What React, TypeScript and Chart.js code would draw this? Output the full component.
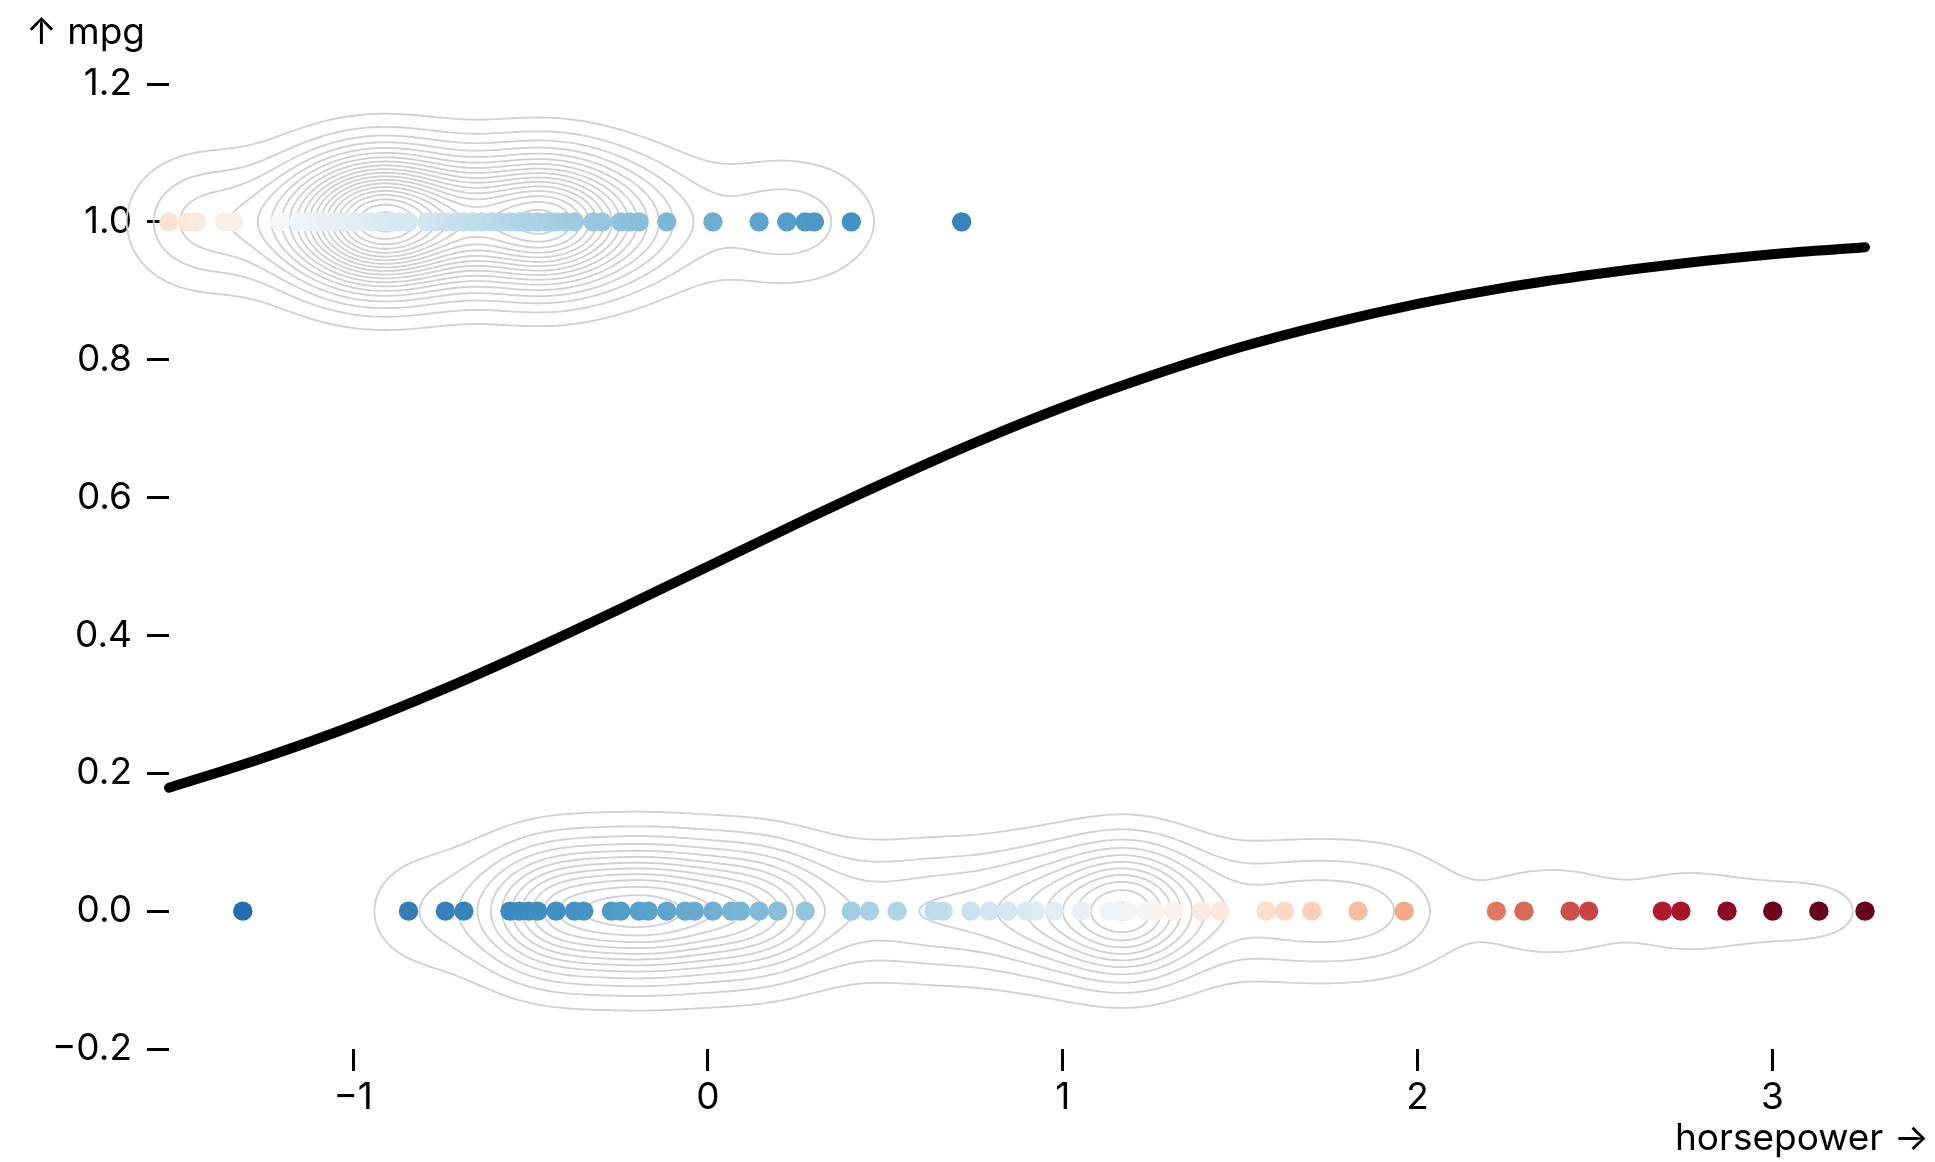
import React, { useEffect, useRef } from 'react';
import { Chart, registerables } from 'chart.js';

Chart.register(...registerables);

// ---- data (standardized horsepower) ----
// cars with mpg = 1 (top row)
const TOP_HORSEPOWER = [
  -1.519, -1.467, -1.441, -1.363, -1.337, -1.207, -1.155, -1.129, -1.103, -1.077,
  -1.051, -1.025, -0.999, -0.973, -0.947, -0.921, -0.896, -0.87, -0.844, -0.792,
  -0.766, -0.74, -0.714, -0.688, -0.662, -0.636, -0.61, -0.584, -0.558, -0.532,
  -0.506, -0.48, -0.454, -0.428, -0.402, -0.376, -0.324, -0.298, -0.246, -0.22,
  -0.194, -0.116, 0.014, 0.144, 0.222, 0.274, 0.3, 0.404, 0.715,
];
// number of cars sharing each value (estimated from the density contours)
const TOP_COUNT = [
  1, 2, 1, 2, 1, 1, 3, 1, 1, 2,
  1, 5, 1, 7, 4, 2, 8, 4, 4, 2,
  5, 1, 1, 3, 1, 3, 1, 1, 2, 4,
  4, 3, 2, 7, 1, 5, 3, 1, 2, 1,
  2, 2, 1, 2, 1, 1, 1, 1, 1,
];
// cars with mpg = 0 (bottom row)
const BOTTOM_HORSEPOWER = [
  -1.311, -0.844, -0.74, -0.688, -0.558, -0.532, -0.506, -0.48, -0.428, -0.376,
  -0.35, -0.272, -0.246, -0.194, -0.168, -0.116, -0.064, -0.038, 0.014, 0.066,
  0.092, 0.144, 0.196, 0.274, 0.404, 0.455, 0.533, 0.637, 0.663, 0.741,
  0.793, 0.845, 0.897, 0.923, 0.975, 1.053, 1.131, 1.157, 1.183, 1.235,
  1.261, 1.313, 1.391, 1.443, 1.573, 1.625, 1.702, 1.832, 1.962, 2.222,
  2.3, 2.43, 2.482, 2.69, 2.742, 2.872, 3.001, 3.131, 3.261,
];
const BOTTOM_COUNT = [
  1, 2, 1, 1, 1, 1, 3, 2, 5, 6,
  1, 1, 6, 4, 2, 7, 1, 1, 6, 1,
  1, 7, 2, 3, 2, 1, 2, 1, 3, 1,
  1, 1, 1, 4, 1, 4, 1, 1, 13, 1,
  1, 2, 1, 2, 2, 1, 3, 3, 3, 1,
  1, 1, 1, 1, 1, 1, 1, 1, 1,
];
const TOP_MPG = 1;
const BOTTOM_MPG = 0;

// fitted curve
const CURVE_X = [-1.519, -1.25, -1.0, -0.75, -0.5, -0.25, 0, 0.25, 0.5, 0.75, 1.0, 1.25, 1.5, 1.75, 2.0, 2.25, 2.5, 2.75, 3.0, 3.261];
const CURVE_Y = [0.179, 0.223, 0.269, 0.321, 0.378, 0.438, 0.5, 0.562, 0.622, 0.679, 0.731, 0.777, 0.818, 0.852, 0.881, 0.905, 0.924, 0.94, 0.953, 0.963];

const X_TICKS = [-1, 0, 1, 2, 3];
const Y_TICKS = [-0.2, 0, 0.2, 0.4, 0.6, 0.8, 1.0, 1.2];
const X_LABEL = 'horsepower →';
const Y_LABEL = '↑ mpg';

const RDBU = ['#67001f', '#b2182b', '#d6604d', '#f4a582', '#fddbc7', '#f7f7f7', '#d1e5f0', '#92c5de', '#4393c3', '#2166ac', '#053061'];

const FONT_FAMILY = 'Inter, "Noto Sans", sans-serif';
const FONT_SIZE = 37;

function hexToRgb(h: string) {
  return [parseInt(h.slice(1, 3), 16), parseInt(h.slice(3, 5), 16), parseInt(h.slice(5, 7), 16)];
}
function rdbu(t: number) {
  t = Math.max(0, Math.min(1, t));
  const s = t * 10;
  const i = Math.min(9, Math.floor(s));
  const f = s - i;
  const a = hexToRgb(RDBU[i]);
  const b = hexToRgb(RDBU[i + 1]);
  const c = a.map((v, k) => Math.round(v + (b[k] - v) * f));
  return `rgb(${c[0]},${c[1]},${c[2]})`;
}
// colour by log-loss of each car under the fitted curve
function pointColor(x: number, y: number) {
  const loss = y === 1 ? Math.log1p(Math.exp(-x)) : Math.log1p(Math.exp(x));
  return rdbu(0.5 - 0.3125 * (loss - 1.48));
}

const SIGMA = 44; // px
const LEVELS = 20;

const densityPlugin = {
  id: 'densityContours',
  beforeDatasetsDraw(chart: any) {
    const { ctx, width, height } = chart;
    const xs = chart.scales.x;
    const ys = chart.scales.y;
    const cell = 3;
    const nx = Math.ceil(width / cell) + 1;
    const ny = Math.ceil(height / cell) + 1;
    const grid = new Float64Array(nx * ny);
    const s2 = 2 * SIGMA * SIGMA;
    const rows: { py: number; arr: Float64Array }[] = [];
    const groups: [number[], number[], number][] = [
      [TOP_HORSEPOWER, TOP_COUNT, TOP_MPG],
      [BOTTOM_HORSEPOWER, BOTTOM_COUNT, BOTTOM_MPG],
    ];
    for (const [hx, cnt, yv] of groups) {
      const py = ys.getPixelForValue(yv);
      const arr = new Float64Array(nx);
      hx.forEach((xv, k) => {
        const px = xs.getPixelForValue(xv);
        const i0 = Math.max(0, Math.floor((px - 4 * SIGMA) / cell));
        const i1 = Math.min(nx - 1, Math.ceil((px + 4 * SIGMA) / cell));
        for (let i = i0; i <= i1; i++) {
          const d = i * cell - px;
          arr[i] += cnt[k] * Math.exp(-(d * d) / s2);
        }
      });
      rows.push({ py, arr });
    }
    let max = 0;
    for (const { py, arr } of rows) {
      const j0 = Math.max(0, Math.floor((py - 4 * SIGMA) / cell));
      const j1 = Math.min(ny - 1, Math.ceil((py + 4 * SIGMA) / cell));
      for (let j = j0; j <= j1; j++) {
        const d = j * cell - py;
        const g = Math.exp(-(d * d) / s2);
        const off = j * nx;
        for (let i = 0; i < nx; i++) {
          const v = (grid[off + i] += g * arr[i]);
          if (v > max) max = v;
        }
      }
    }
    const step = max / (LEVELS + 0.5);
    ctx.save();
    ctx.strokeStyle = '#d0d0d0';
    ctx.lineWidth = 1.8;
    ctx.lineJoin = 'round';
    ctx.lineCap = 'round';
    for (let k = 1; k <= LEVELS; k++) {
      const t = k * step;
      ctx.beginPath();
      for (let j = 0; j < ny - 1; j++) {
        for (let i = 0; i < nx - 1; i++) {
          const v0 = grid[j * nx + i];
          const v1 = grid[j * nx + i + 1];
          const v2 = grid[(j + 1) * nx + i + 1];
          const v3 = grid[(j + 1) * nx + i];
          const code = (v0 > t ? 8 : 0) | (v1 > t ? 4 : 0) | (v2 > t ? 2 : 0) | (v3 > t ? 1 : 0);
          if (code === 0 || code === 15) continue;
          const top = () => [(i + (t - v0) / (v1 - v0)) * cell, j * cell];
          const right = () => [(i + 1) * cell, (j + (t - v1) / (v2 - v1)) * cell];
          const bottom = () => [(i + (t - v3) / (v2 - v3)) * cell, (j + 1) * cell];
          const left = () => [i * cell, (j + (t - v0) / (v3 - v0)) * cell];
          const seg = (a: number[], b: number[]) => {
            ctx.moveTo(a[0], a[1]);
            ctx.lineTo(b[0], b[1]);
          };
          switch (code) {
            case 1: case 14: seg(left(), bottom()); break;
            case 2: case 13: seg(bottom(), right()); break;
            case 3: case 12: seg(left(), right()); break;
            case 4: case 11: seg(top(), right()); break;
            case 6: case 9: seg(top(), bottom()); break;
            case 7: case 8: seg(top(), left()); break;
            case 5: seg(top(), right()); seg(left(), bottom()); break;
            case 10: seg(top(), left()); seg(bottom(), right()); break;
          }
        }
      }
      ctx.stroke();
    }
    ctx.restore();
  },
};

const labelPlugin = {
  id: 'axisLabels',
  afterDraw(chart: any) {
    const { ctx } = chart;
    ctx.save();
    ctx.font = `${FONT_SIZE}px ${FONT_FAMILY}`;
    ctx.fillStyle = '#000';
    ctx.textBaseline = 'middle';
    ctx.textAlign = 'left';
    ctx.fillText(Y_LABEL, 26, 33);
    ctx.textAlign = 'right';
    ctx.fillText(X_LABEL, 1929, 1139);
    ctx.restore();
  },
};

function fmtMinus(s: string) {
  return s.replace('-', '\u2212');
}

export default function App() {
  const ref = useRef<HTMLCanvasElement | null>(null);
  useEffect(() => {
    document.body.style.margin = '0';
    document.body.style.overflow = 'hidden';
    const canvas = ref.current!;
    const curve = CURVE_X.map((x, i) => ({ x, y: CURVE_Y[i] }));
    const top = TOP_HORSEPOWER.map((x) => ({ x, y: TOP_MPG }));
    const bottom = BOTTOM_HORSEPOWER.map((x) => ({ x, y: BOTTOM_MPG }));
    const tickFont = { family: FONT_FAMILY, size: FONT_SIZE };
    const chart = new Chart(canvas, {
      type: 'scatter',
      data: {
        datasets: [
          {
            type: 'line',
            data: curve,
            borderColor: '#000',
            borderWidth: 10,
            pointRadius: 0,
            cubicInterpolationMode: 'monotone',
            borderCapStyle: 'round',
            borderJoinStyle: 'round',
            clip: false,
            order: 3,
          } as any,
          {
            type: 'scatter',
            data: top,
            pointRadius: 9.7,
            pointBorderWidth: 0,
            pointBackgroundColor: top.map((p) => pointColor(p.x, p.y)),
            clip: false,
            order: 2,
          },
          {
            type: 'scatter',
            data: bottom,
            pointRadius: 9.7,
            pointBorderWidth: 0,
            pointBackgroundColor: bottom.map((p) => pointColor(p.x, p.y)),
            clip: false,
            order: 1,
          },
        ],
      },
      options: {
        animation: false,
        responsive: false,
        maintainAspectRatio: false,
        devicePixelRatio: 1,
        layout: { padding: { top: 84, right: 70, left: 0, bottom: 0 } },
        plugins: { legend: { display: false }, tooltip: { enabled: false } },
        scales: {
          x: {
            type: 'linear',
            min: -1.519,
            max: 3.261,
            afterBuildTicks: (s: any) => {
              s.ticks = X_TICKS.map((v) => ({ value: v }));
            },
            afterFit: (s: any) => {
              s.height = 113;
            },
            border: { display: false },
            grid: { drawOnChartArea: false, drawTicks: true, tickLength: 22, lineWidth: 3, color: '#000' },
            ticks: {
              font: tickFont,
              color: '#000',
              padding: 5,
              maxRotation: 0,
              autoSkip: false,
              callback: (v: any) => fmtMinus(String(Math.round(Number(v)))),
            },
          },
          y: {
            type: 'linear',
            min: -0.2,
            max: 1.2,
            afterBuildTicks: (s: any) => {
              s.ticks = Y_TICKS.map((v) => ({ value: v }));
            },
            afterFit: (s: any) => {
              s.width = 169;
            },
            border: { display: false },
            grid: { drawOnChartArea: false, drawTicks: true, tickLength: 22, lineWidth: 3, color: '#000' },
            ticks: {
              font: tickFont,
              color: '#000',
              padding: 15,
              autoSkip: false,
              callback: (v: any) => {
                const n = Number(v);
                return fmtMinus(Math.abs(n) < 1e-9 ? '0.0' : n.toFixed(1));
              },
            },
          },
        },
      } as any,
      plugins: [densityPlugin, labelPlugin],
    });
    return () => chart.destroy();
  }, []);
  return <canvas ref={ref} width={1935} height={1162} style={{ display: 'block' }} />;
}
